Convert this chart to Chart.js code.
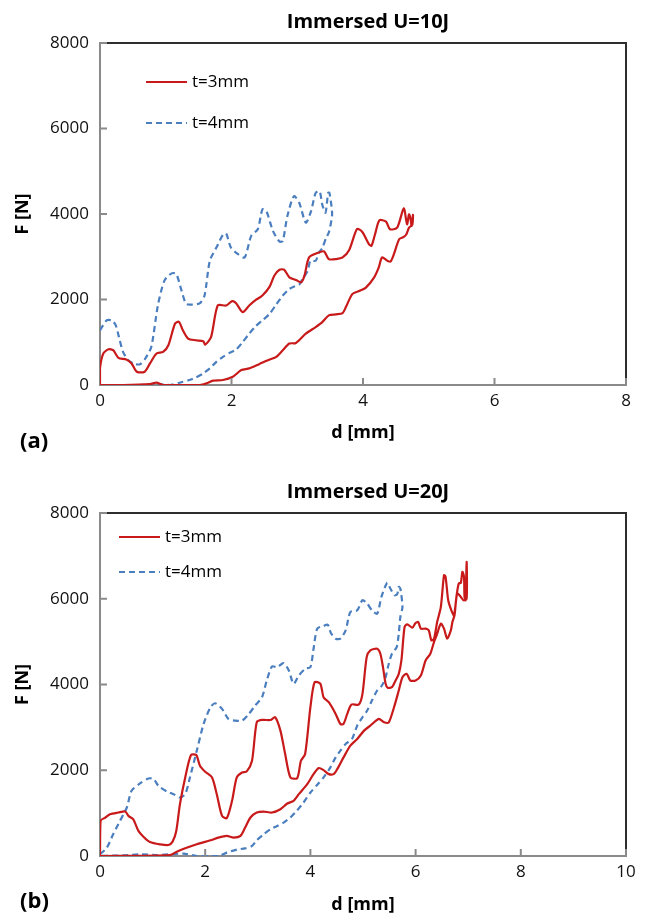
<!DOCTYPE html>
<html>
<head>
<meta charset="utf-8">
<script src="https://cdn.jsdelivr.net/npm/chart.js@4"></script>
<style>
  html, body { margin: 0; padding: 0; background: #fff; }
  #wrap { position: relative; width: 647px; height: 920px; }
  canvas { position: absolute; left: 0; }
  #panelA { top: 0; }
  #panelB { top: 460px; }
</style>
</head>
<body>
<div id="wrap">
  <canvas id="panelA" width="647" height="460"></canvas>
  <canvas id="panelB" width="647" height="460"></canvas>
</div>
<script>
// ---- U=10J, t=3mm (loading branch, then unloading back to zero)
var a3_d = [0, 0, 0.05, 0.13, 0.2, 0.28, 0.4, 0.48, 0.56, 0.68, 0.76, 0.86, 0.96, 1.04, 1.14, 1.2, 1.26, 1.34, 1.46, 1.57, 1.6, 1.69, 1.79, 1.92, 2.01, 2.07, 2.17, 2.27, 2.37, 2.47, 2.58, 2.65, 2.73, 2.8, 2.88, 2.98, 3.06, 3.11, 3.18, 3.33, 3.41, 3.48, 3.59, 3.69, 3.79, 3.91, 3.99, 4.09, 4.13, 4.19, 4.25, 4.35, 4.41, 4.52, 4.62, 4.67, 4.7, 4.72, 4.74, 4.76, 4.75,
  4.7, 4.66, 4.62, 4.55, 4.47, 4.42, 4.37, 4.29, 4.24, 4.17, 4.04, 3.96, 3.84, 3.74, 3.69, 3.59, 3.48, 3.38, 3.28, 3.13, 2.98, 2.88, 2.78, 2.68, 2.58, 2.42, 2.27, 2.15, 2.02, 1.87, 1.72, 1.62, 1.52, 0.96, 0.86, 0.76, 0.35, 0];
var a3_F = [0, 388, 736, 837, 814, 636, 597, 504, 310, 310, 504, 736, 775, 930, 1434, 1480, 1279, 1085, 1046, 1023, 945, 1124, 1860, 1860, 1961, 1914, 1705, 1860, 1991, 2092, 2302, 2557, 2697, 2697, 2519, 2457, 2402, 2557, 2984, 3100, 3123, 2945, 2945, 2984, 3160, 3650, 3580, 3295, 3256, 3566, 3853, 3822, 3643, 3682, 4132, 3760, 3992, 3915, 3721, 3980, 3750,
  3682, 3527, 3465, 3411, 3062, 2891, 2907, 2984, 2752, 2519, 2271, 2209, 2132, 1822, 1682, 1651, 1628, 1472, 1356, 1201, 984, 969, 814, 659, 597, 488, 388, 349, 194, 116, 101, 39, 0, 0, 54, 23, 0, 0];

// ---- U=10J, t=4mm
var a4_d = [0, 0.1, 0.18, 0.24, 0.3, 0.35, 0.43, 0.53, 0.61, 0.68, 0.78, 0.88, 0.98, 1.09, 1.16, 1.24, 1.31, 1.41, 1.52, 1.59, 1.67, 1.77, 1.87, 1.92, 1.99, 2.1, 2.2, 2.3, 2.4, 2.47, 2.53, 2.63, 2.73, 2.78, 2.85, 2.95, 3.03, 3.13, 3.21, 3.28, 3.34, 3.38, 3.43, 3.47, 3.49, 3.53,
  3.48, 3.44, 3.38, 3.33, 3.28, 3.2, 3.16, 3.08, 3.03, 2.95, 2.88, 2.78, 2.68, 2.58, 2.47, 2.37, 2.27, 2.17, 2.07, 1.97, 1.87, 1.77, 1.67, 1.57, 1.46, 1.36, 1.21, 1.06, 0.86, 0.61, 0.15, 0];
var a4_F = [1279, 1511, 1511, 1395, 1046, 775, 581, 488, 488, 597, 891, 1860, 2441, 2612, 2596, 2209, 1899, 1883, 1914, 2092, 2906, 3216, 3511, 3542, 3216, 3061, 2984, 3488, 3643, 4108, 4069, 3604, 3356, 3371, 3953, 4418, 4263, 3798, 4069, 4495, 4534, 4224, 4030, 4495, 4495, 3991,
  3565, 3449, 3200, 3100, 2906, 2906, 2674, 2480, 2348, 2302, 2247, 2092, 1883, 1666, 1511, 1379, 1201, 1007, 829, 752, 659, 542, 388, 271, 178, 116, 54, 0, 15, 0, 0, 0];

// ---- U=20J, t=3mm
var b3_d = [0, 0.01, 0.1, 0.19, 0.35, 0.48, 0.54, 0.63, 0.73, 0.83, 0.95, 1.14, 1.3, 1.38, 1.45, 1.52, 1.62, 1.73, 1.83, 1.9, 2.0, 2.13, 2.22, 2.32, 2.41, 2.51, 2.6, 2.7, 2.79, 2.89, 2.98, 3.08, 3.24, 3.33, 3.43, 3.52, 3.62, 3.75, 3.82, 3.9, 4.0, 4.08, 4.19, 4.25, 4.35, 4.48, 4.57, 4.63, 4.7, 4.78, 4.92, 4.99, 5.07, 5.14, 5.27, 5.33, 5.38, 5.43, 5.47, 5.55, 5.62, 5.68, 5.73, 5.79, 5.84, 5.94, 6.0, 6.05, 6.1, 6.19, 6.25, 6.3, 6.35, 6.41, 6.48, 6.54, 6.57, 6.62, 6.68, 6.73, 6.78, 6.82, 6.86, 6.89, 6.92, 6.93, 6.95, 6.97, 6.97,
  6.91, 6.86, 6.79, 6.74, 6.7, 6.67, 6.6, 6.54, 6.48, 6.4, 6.35, 6.28, 6.19, 6.1, 6.0, 5.9, 5.83, 5.75, 5.68, 5.59, 5.49, 5.4, 5.3, 5.14, 5.02, 4.89, 4.76, 4.63, 4.51, 4.44, 4.35, 4.25, 4.16, 4.06, 3.94, 3.78, 3.68, 3.56, 3.43, 3.27, 3.11, 2.98, 2.86, 2.76, 2.67, 2.54, 2.41, 2.25, 2.1, 1.84, 1.62, 1.46, 1.33, 0];
var b3_F = [0, 819, 897, 975, 1014, 1037, 936, 858, 585, 444, 327, 273, 257, 335, 585, 1209, 1832, 2355, 2355, 2105, 1965, 1832, 1442, 936, 881, 1287, 1832, 1949, 1973, 2222, 3119, 3173, 3173, 3236, 2924, 2378, 1832, 1817, 2222, 2378, 3470, 4054, 4015, 3704, 3587, 3314, 3080, 3080, 3314, 3532, 3532, 3782, 4639, 4795, 4834, 4717, 4405, 4015, 3922, 3938, 4093, 4249, 4561, 5341, 5403, 5325, 5435, 5458, 5302, 5302, 5263, 5029, 5068, 5458, 5809, 6550, 6511, 5965, 5731, 5614, 6082, 6355, 6371, 6628, 6511, 6043, 5965, 6862, 6004,
  5965, 6043, 6121, 5614, 5458, 5263, 5068, 5302, 5419, 5146, 4990, 4717, 4561, 4210, 4093, 4093, 4249, 4171, 3860, 3470, 3119, 3119, 3197, 3041, 2924, 2729, 2573, 2300, 2027, 1910, 1910, 2004, 2051, 1910, 1676, 1442, 1287, 1224, 1092, 1014, 1037, 1014, 897, 663, 468, 429, 468, 429, 366, 273, 179, 101, 23, 0];

// ---- U=20J, t=4mm
var b4_d = [0, 0.13, 0.25, 0.38, 0.51, 0.6, 0.76, 0.92, 1.02, 1.11, 1.27, 1.4, 1.51, 1.62, 1.71, 1.84, 1.97, 2.1, 2.19, 2.32, 2.44, 2.57, 2.7, 2.83, 2.95, 3.08, 3.17, 3.27, 3.37, 3.49, 3.59, 3.68, 3.78, 3.9, 4.0, 4.06, 4.13, 4.25, 4.33, 4.39, 4.48, 4.57, 4.67, 4.76, 4.89, 4.99, 5.08, 5.17, 5.27, 5.35, 5.46, 5.52, 5.6, 5.65, 5.68, 5.71, 5.75,
  5.71, 5.68, 5.64, 5.55, 5.49, 5.43, 5.36, 5.27, 5.17, 5.08, 4.99, 4.89, 4.79, 4.67, 4.57, 4.48, 4.38, 4.25, 4.13, 4.0, 3.87, 3.75, 3.62, 3.49, 3.37, 3.24, 3.11, 2.98, 2.89, 2.76, 2.6, 2.41, 2.25, 1.84, 1.59, 1.08, 0.76, 0.44, 0];
var b4_F = [39, 195, 507, 819, 1131, 1520, 1692, 1809, 1793, 1637, 1505, 1442, 1364, 1442, 1832, 2456, 3080, 3470, 3563, 3431, 3197, 3158, 3158, 3314, 3509, 3704, 4093, 4421, 4405, 4499, 4327, 4015, 4210, 4366, 4405, 4834, 5302, 5364, 5395, 5201, 5068, 5068, 5263, 5692, 5731, 5965, 5887, 5731, 5653, 6043, 6371, 6238, 6082, 6106, 6277, 6238, 5809,
  5575, 5185, 4873, 4717, 4483, 4171, 3976, 3860, 3626, 3392, 3236, 3041, 2729, 2612, 2456, 2300, 2066, 1832, 1661, 1481, 1248, 1068, 897, 780, 702, 624, 507, 366, 234, 179, 148, 78, 0, 0, 55, 23, 39, 16, 0];

var yTicks = [0, 2000, 4000, 6000, 8000];
var seriesNames = ['t=3mm', 't=4mm'];

var RED = '#c81a1a';
var BLUE = '#4a7ebf';
var AXIS_GREY = '#8a8a8a';
var FONT = "'Open Sans', 'DejaVu Sans', sans-serif";

function pts(xs, ys) {
  return xs.map(function(x, i) { return { x: x, y: ys[i] }; });
}

// frame, inside ticks, titles and the in-plot legend
var decor = {
  id: 'decor',
  afterDraw: function(chart, args, o) {
    var ctx = chart.ctx, a = chart.chartArea;
    var xs = chart.scales.x, ys = chart.scales.y;
    ctx.save();

    ctx.strokeStyle = '#2e2e2e';
    ctx.lineWidth = 2;
    ctx.beginPath();
    ctx.moveTo(a.left + 7, a.top);
    ctx.lineTo(a.right, a.top);
    ctx.lineTo(a.right, a.bottom - 7);
    ctx.stroke();

    ctx.strokeStyle = AXIS_GREY;
    ctx.beginPath();
    xs.ticks.forEach(function(t) {
      if (t.value === 0) return;
      var px = xs.getPixelForValue(t.value);
      ctx.moveTo(px, a.bottom);
      ctx.lineTo(px, a.bottom - 7);
    });
    ys.ticks.forEach(function(t) {
      if (t.value === 0) return;
      var py = ys.getPixelForValue(t.value);
      ctx.moveTo(a.left, py);
      ctx.lineTo(a.left + 7, py);
    });
    ctx.stroke();

    var midX = (a.left + a.right) / 2 + 5;
    ctx.fillStyle = '#000';
    ctx.textBaseline = 'middle';
    ctx.textAlign = 'center';
    ctx.font = 'bold 20px ' + FONT;
    ctx.fillText(o.title, midX, a.top - 21);

    ctx.font = 'bold 18px ' + FONT;
    ctx.fillText('d [mm]', (a.left + a.right) / 2, a.bottom + o.xTitleGap);

    ctx.save();
    ctx.translate(23, (a.top + a.bottom) / 2);
    ctx.rotate(-Math.PI / 2);
    ctx.fillText('F [N]', 0, 0);
    ctx.restore();

    ctx.textAlign = 'left';
    ctx.font = 'bold 22px ' + FONT;
    ctx.fillText(o.panel, 20, a.bottom + o.panelGap);

    // legend entries taken from the datasets themselves
    ctx.font = '17px ' + FONT;
    chart.data.datasets.forEach(function(ds, i) {
      var ly = a.top + o.legendTop + i * o.legendStep;
      var lx = a.left + o.legendLeft;
      ctx.strokeStyle = ds.borderColor;
      ctx.lineWidth = ds.borderWidth;
      ctx.setLineDash(ds.borderDash || []);
      ctx.beginPath();
      ctx.moveTo(lx, ly);
      ctx.lineTo(lx + 41, ly);
      ctx.stroke();
      ctx.setLineDash([]);
      ctx.fillText(ds.label, lx + 46, ly);
    });

    ctx.restore();
  }
};

function makePanel(id, cfg) {
  var tickFont = { family: FONT, size: 17 };
  var plain = function(v) { return String(v); };
  return new Chart(document.getElementById(id), {
    type: 'scatter',
    data: {
      datasets: [
        { label: seriesNames[0], data: pts(cfg.d3, cfg.F3), showLine: true, borderColor: RED, borderWidth: 2.2, pointRadius: 0, tension: 0.25, fill: false },
        { label: seriesNames[1], data: pts(cfg.d4, cfg.F4), showLine: true, borderColor: BLUE, borderWidth: 2.2, borderDash: [6, 4], pointRadius: 0, tension: 0.25, fill: false }
      ]
    },
    options: {
      responsive: false,
      animation: false,
      layout: { padding: { top: cfg.top, right: 21, left: 0, bottom: 0 } },
      plugins: {
        legend: { display: false },
        tooltip: { enabled: false },
        decor: cfg.decor
      },
      scales: {
        x: {
          type: 'linear', min: 0, max: cfg.xMax,
          ticks: { stepSize: 2, padding: 6, color: '#111', font: tickFont, callback: plain },
          grid: { drawOnChartArea: false, drawTicks: false },
          border: { display: true, color: AXIS_GREY, width: 2 },
          afterFit: function(s) { s.height = cfg.xHeight; }
        },
        y: {
          type: 'linear', min: 0, max: 8000,
          afterBuildTicks: function(s) { s.ticks = yTicks.map(function(v) { return { value: v }; }); },
          ticks: { padding: 11, color: '#111', font: tickFont, callback: plain },
          grid: { drawOnChartArea: false, drawTicks: false },
          border: { display: true, color: AXIS_GREY, width: 2 },
          afterFit: function(s) { s.width = 100; }
        }
      }
    },
    plugins: [decor]
  });
}

makePanel('panelA', {
  d3: a3_d, F3: a3_F, d4: a4_d, F4: a4_F,
  xMax: 8, top: 43, xHeight: 75,
  decor: { title: 'Immersed U=10J', panel: '(a)', xTitleGap: 48, panelGap: 57, legendTop: 39, legendStep: 41, legendLeft: 46 }
});

makePanel('panelB', {
  d3: b3_d, F3: b3_F, d4: b4_d, F4: b4_F,
  xMax: 10, top: 53, xHeight: 64,
  decor: { title: 'Immersed U=20J', panel: '(b)', xTitleGap: 49, panelGap: 46, legendTop: 24, legendStep: 35, legendLeft: 19 }
});
</script>
</body>
</html>
